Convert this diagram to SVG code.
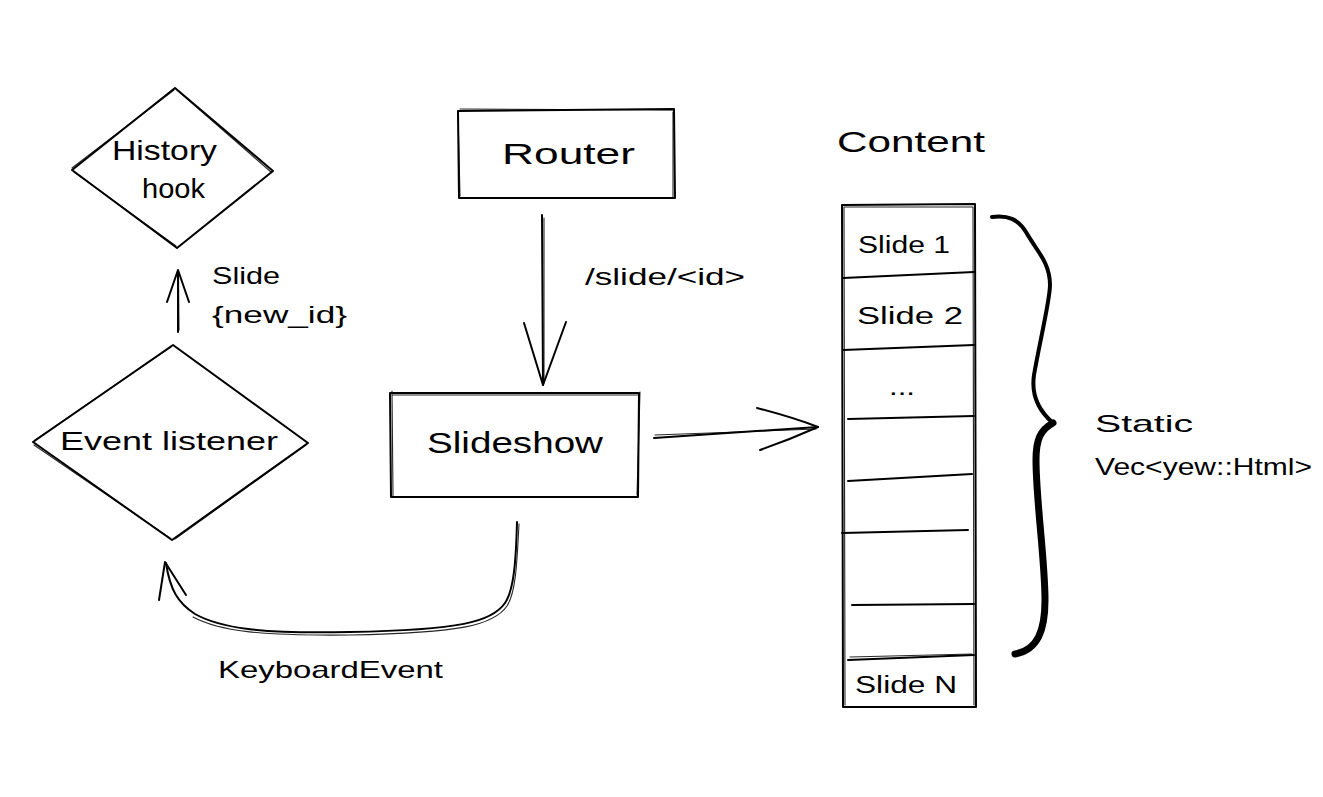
<svg xmlns="http://www.w3.org/2000/svg" width="1323" height="797" viewBox="0 0 1323 797">
  <style>
    .s { fill: none; stroke: #000; stroke-width: 2; stroke-linecap: round; stroke-linejoin: round; }
    .s2 { fill: none; stroke: #000; stroke-width: 1.1; stroke-linecap: round; stroke-linejoin: round; opacity: 0.85; }
    .t { font-family: "Liberation Sans", "Noto Sans", sans-serif; fill: #000; }
  </style>
  <rect x="0" y="0" width="1323" height="797" fill="#fff"/>

  <g id="connectors">
    <!-- Event listener -> History hook -->
    <g id="conn-slide-new-id">
      <path class="s" d="M178,332 L178,271"/>
      <path class="s2" d="M179,330 L178.5,273"/>
      <path class="s" d="M167,302 L178,270 L189,302"/>
    </g>
    <!-- Router -> Slideshow -->
    <g id="conn-router-slideshow">
      <path class="s" d="M542,215 L543,385"/>
  <path class="s2" d="M544,218 L544,383"/>
      <path class="s" d="M524,323 L543,385 L566,322"/>
    </g>
    <!-- Slideshow -> Content -->
    <g id="conn-slideshow-content">
      <path class="s" d="M654,438 L818,427"/>
      <path class="s2" d="M655,435 L816,429"/>
      <path class="s" d="M757,408 C780,414 800,420 818,427 C800,435 780,443 760,450"/>
    </g>
    <!-- Slideshow -> Event listener (KeyboardEvent) -->
    <g id="conn-keyboard">
      <path class="s" d="M517,522 C516,560 514,590 505,603 C492,622 460,630 350,632 C260,634 220,628 195,614 C178,603 170,590 166,563"/>
      <path class="s2" d="M519,524 C517,562 516,592 507,606 C494,625 462,633 350,635 C260,636 219,631 193,617"/>
      <path class="s" d="M159,600 L165,562 L186,595"/>
    </g>
    <text class="t" x="212" y="284" font-size="24" textLength="68" lengthAdjust="spacingAndGlyphs">Slide</text>
    <text class="t" x="212" y="323" font-size="24" textLength="135" lengthAdjust="spacingAndGlyphs">{new_id}</text>
    <text class="t" x="585" y="285" font-size="24" textLength="160" lengthAdjust="spacingAndGlyphs">/slide/&lt;id&gt;</text>
    <text class="t" x="218" y="678" font-size="24" textLength="225" lengthAdjust="spacingAndGlyphs">KeyboardEvent</text>
  </g>

  <g id="history-hook">
    <path class="s" d="M175,88 L273,171 L177,248 L72,170 Z"/>
    <path class="s2" d="M177,90 L271,172 M176,246 L74,172 M72,168 L174,90"/>
    <text class="t" x="112" y="160" font-size="28" textLength="105" lengthAdjust="spacingAndGlyphs">History</text>
    <text class="t" x="142" y="198" font-size="28" textLength="63" lengthAdjust="spacingAndGlyphs">hook</text>
  </g>

  <g id="event-listener">
    <path class="s" d="M173,345 L308,443 L172,540 L33,442 Z"/>
    <path class="s2" d="M35,440 L171,347 M306,445 L175,539 M34,445 L170,538"/>
    <text class="t" x="60" y="450" font-size="26" textLength="218" lengthAdjust="spacingAndGlyphs">Event listener</text>
  </g>

  <g id="router">
    <path class="s" d="M458,111 L674,109 L675,198 L459,198 Z"/>
    <path class="s2" d="M460,109 L673,110 M673,112 L673,197 M458,113 L460,196"/>
    <text class="t" x="502" y="164" font-size="30" textLength="133" lengthAdjust="spacingAndGlyphs">Router</text>
  </g>

  <g id="slideshow">
    <path class="s" d="M390,393 L639,393 L638,497 L391,497 Z"/>
    <path class="s2" d="M392,395 L638,395 M640,392 L637,495 M392,391 L393,496"/>
    <text class="t" x="427" y="453" font-size="30" textLength="176" lengthAdjust="spacingAndGlyphs">Slideshow</text>
  </g>

  <g id="content">
    <text class="t" x="837" y="152" font-size="30" textLength="148" lengthAdjust="spacingAndGlyphs">Content</text>
    <path class="s" d="M842,205 L975,204 L976,707 L843,707 Z"/>
    <path class="s2" d="M844,207 L973,207 M973,207 L974,705 M844,207 L845,705"/>
    <path class="s" d="M843,278 L974,272"/>
    <path class="s" d="M843,350 L974,345"/>
    <path class="s" d="M848,419 L974,416"/>
    <path class="s" d="M848,481 L972,474"/>
    <path class="s" d="M842,533 L968,530"/>
    <path class="s" d="M852,605 L974,604"/>
    <path class="s" d="M848,660 L974,655"/>
    <path class="s2" d="M850,657 L972,654"/>
    <text class="t" x="858" y="253" font-size="23" textLength="92" lengthAdjust="spacingAndGlyphs">Slide 1</text>
    <text class="t" x="857" y="324" font-size="23" textLength="106" lengthAdjust="spacingAndGlyphs">Slide 2</text>
    <text class="t" x="889" y="395" font-size="23" textLength="26" lengthAdjust="spacingAndGlyphs">...</text>
    <text class="t" x="855" y="693" font-size="23" textLength="102" lengthAdjust="spacingAndGlyphs">Slide N</text>
  </g>

  <g id="brace">
    <path class="s" style="stroke-width:4" d="M992,217 C1008,215 1018,219 1026,232 C1036,250 1050,262 1050,285 C1050,300 1040,340 1034,375 C1031,395 1038,410 1053,423"/>
    <path class="s" style="stroke-width:7" d="M1053,423 C1040,430 1036,440 1036,460 C1036,500 1045,560 1045,600 C1045,630 1038,650 1015,654"/>
    <text class="t" x="1095" y="432" font-size="24" textLength="98" lengthAdjust="spacingAndGlyphs">Static</text>
    <text class="t" x="1095" y="475" font-size="24" textLength="217" lengthAdjust="spacingAndGlyphs">Vec&lt;yew::Html&gt;</text>
  </g>
</svg>
